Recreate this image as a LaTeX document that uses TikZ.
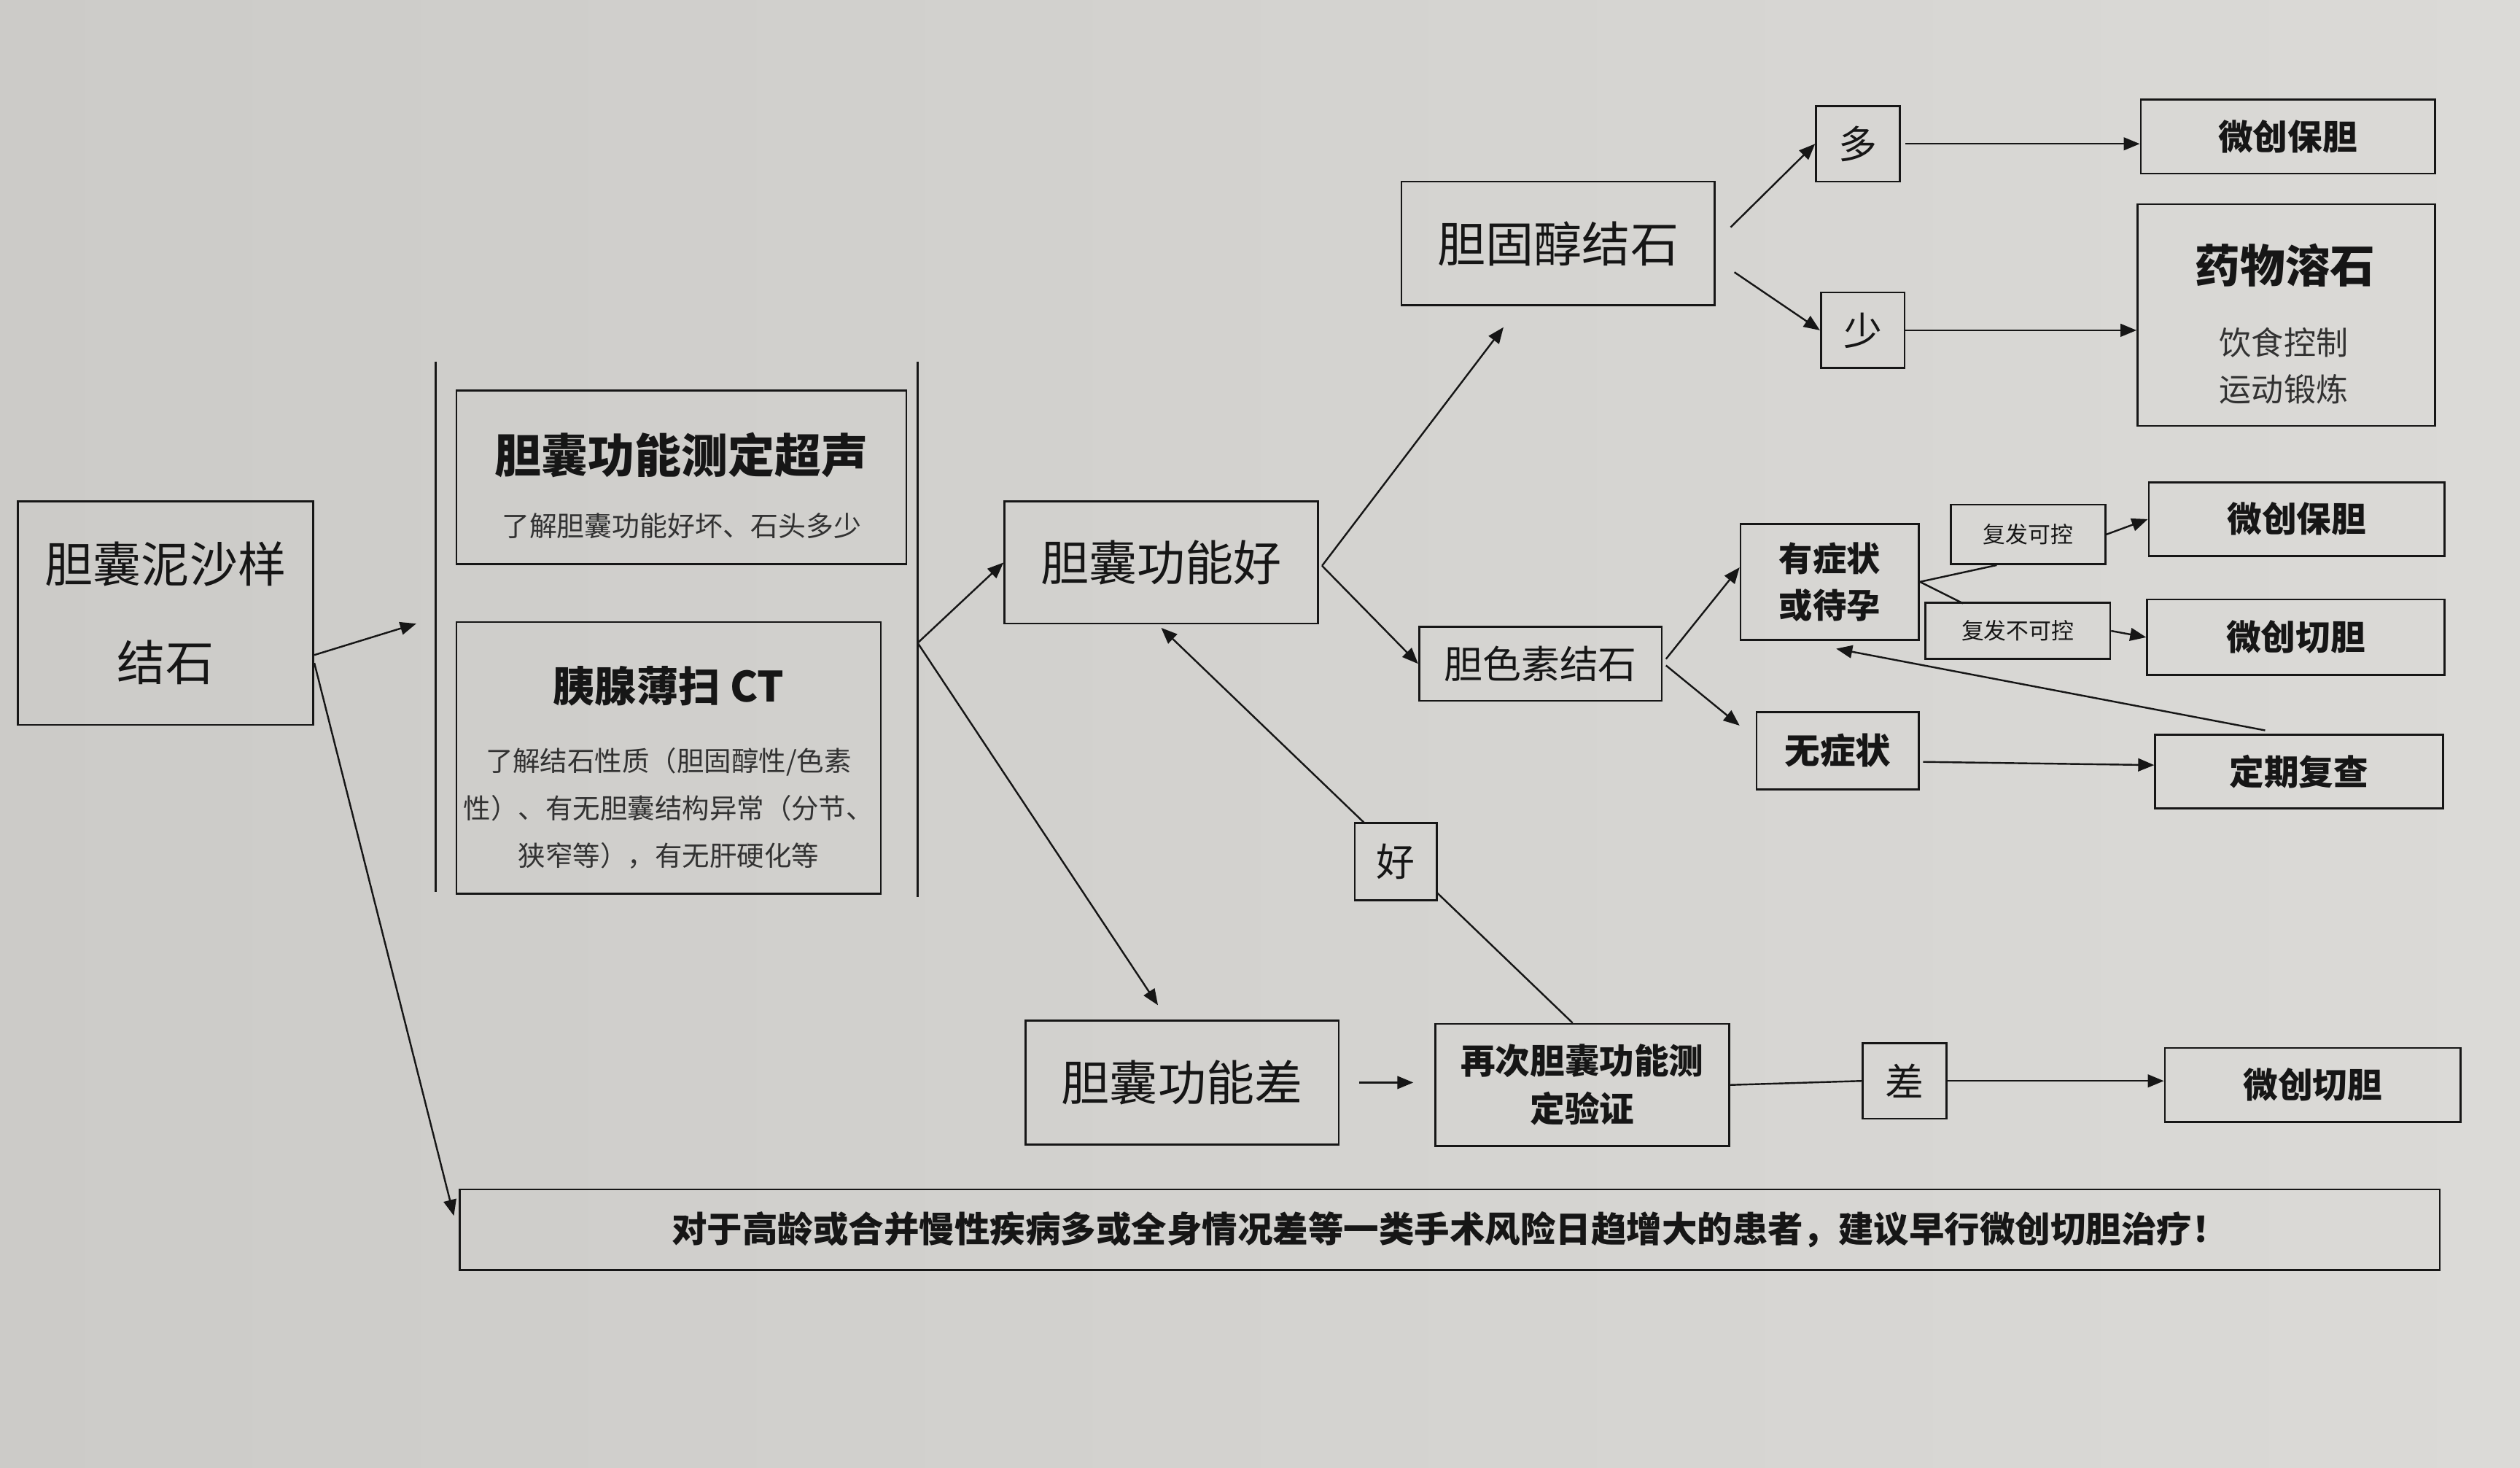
\documentclass[tikz,border=0pt]{standalone}
\usepackage{fontspec}
\setmainfont{Noto Sans CJK SC}
\usetikzlibrary{arrows.meta,calc}
\definecolor{bg}{RGB}{213,212,209}
\definecolor{bgl}{RGB}{204,203,200}
\definecolor{bgr}{RGB}{219,218,215}
\definecolor{ink}{RGB}{22,22,22}
\definecolor{soft}{RGB}{50,50,50}
\tikzset{
  box/.style={draw=ink, line width=0.6pt, inner sep=0pt, align=center, text=ink},
  lbl/.style={inner sep=0pt, align=center, text=ink},
  arr/.style={draw=ink, line width=0.55pt, -{Triangle[length=5pt,width=4pt]}},
  ln/.style={draw=ink, line width=0.55pt},
}
\newcommand\fs[2]{\fontsize{#1}{#2}\selectfont}
\newcommand\bx[7]{\node[box, font={#6}, minimum width={(#4-#2)*0.5pt}, minimum height={(#5-#3)*0.5pt}] (#1) at ({(#2+#4)/2},{(#3+#5)/2}) {#7};}
\begin{document}
\begin{tikzpicture}[x=0.5pt,y=-0.5pt]
\shade[left color=bgl, right color=bgr] (0,0) rectangle (1568,913);
\useasboundingbox (0,0) rectangle (1568,913);

% boxes
\bx{A}{11}{312}{195}{451}{\fs{15pt}{30.5pt}}{胆囊泥沙样\\结石}
\bx{B}{284}{243}{564}{351}{}{}
\node[lbl, font=\fs{14.5pt}{18pt}\bfseries] (Bt) at (424,283) {胆囊功能测定超声};
\node[lbl, text=soft, font=\fs{8.6pt}{12pt}] (Bs) at (424,327) {了解胆囊功能好坏、石头多少};
\bx{C}{284}{387}{548}{556}{}{}
\node[lbl, font=\fs{13pt}{16pt}\bfseries] (Ct) at (416,427) {胰腺薄扫 CT};
\node[lbl, text=soft, font=\fs{8.5pt}{14.75pt}] (Cs) at (416,503) {了解结石性质（胆固醇性/色素\\性）、有无胆囊结构异常（分节、\\狭窄等），有无肝硬化等};

\bx{D}{625}{312}{820}{388}{\fs{15pt}{18pt}}{胆囊功能好}
\bx{E}{638}{635}{833}{712}{\fs{15pt}{18pt}}{胆囊功能差}
\bx{F}{893}{637}{1076}{713}{\fs{10.8pt}{15pt}\bfseries}{再次胆囊功能测\\定验证}
\bx{cha}{1159}{649}{1211}{696}{\fs{12pt}{14pt}}{差}
\bx{S}{1347}{652}{1531}{698}{\fs{10.8pt}{13pt}\bfseries}{微创切胆}
\bx{Z}{286}{740}{1518}{790}{\fs{11pt}{13pt}\bfseries}{对于高龄或合并慢性疾病多或全身情况差等一类手术风险日趋增大的患者，建议早行微创切胆治疗！}

\bx{G}{872}{113}{1067}{190}{\fs{15pt}{18pt}}{胆固醇结石}
\bx{H}{883}{390}{1034}{436}{\fs{12pt}{14pt}}{胆色素结石}
\bx{duo}{1130}{66}{1182}{113}{\fs{12pt}{14pt}}{多}
\bx{shao}{1133}{182}{1185}{229}{\fs{12pt}{14pt}}{少}
\bx{P1}{1332}{62}{1515}{108}{\fs{10.8pt}{13pt}\bfseries}{微创保胆}
\bx{M}{1330}{127}{1515}{265}{}{}
\node[lbl, font=\fs{14pt}{17pt}\bfseries] (Mt) at (1422,165) {药物溶石};
\node[lbl, text=soft, font=\fs{10pt}{14.5pt}] (Ms) at (1421,227.5) {饮食控制\\运动锻炼};

\bx{I}{1083}{326}{1194}{398}{\fs{10.5pt}{14.5pt}\bfseries}{有症状\\或待孕}
\bx{J}{1093}{443}{1194}{491}{\fs{11pt}{13pt}\bfseries}{无症状}
\bx{K1}{1214}{314}{1310}{351}{\fs{7pt}{9pt}}{复发可控}
\bx{K2}{1198}{375}{1313}{410}{\fs{7pt}{9pt}}{复发不可控}
\bx{Q1}{1337}{300}{1521}{346}{\fs{10.8pt}{13pt}\bfseries}{微创保胆}
\bx{Q2}{1336}{373}{1521}{420}{\fs{10.8pt}{13pt}\bfseries}{微创切胆}
\bx{R}{1341}{457}{1520}{503}{\fs{10.8pt}{13pt}\bfseries}{定期复查}

% brackets around the examinations
\draw[ln, line width=0.8pt] (271,225) -- (271,555);
\draw[ln, line width=0.8pt] (571,225) -- (571,558);
\coordinate (lbin) at (259,388);
\coordinate (rb) at (571,400);

% connectors
\draw[arr] ($(A.east)+(0,26)$) -- (lbin);
\draw[arr] ($(A.east)+(0,31)$) -- ($(Z.north west)+(-3,17)$);
\draw[arr] (rb) -- (D.west);
\draw[arr] (rb) -- ($(E.north)+(-15,-9)$);
\draw[arr, shorten <=6pt, shorten >=6.5pt] (E.east) -- (E.east -| F.west);

\draw[arr] ($(F.north)+(-6,0)$) -- ($(D.south)+(0,2)$);
\node[box, fill=bg, minimum width=25.5pt, minimum height=24pt, font=\fs{12pt}{14pt}] (hao) at (868.5,536) {好};

\draw[ln] (F.east) -- (cha.west);
\draw[arr] (cha.east) -- (cha.east -| S.west);

\draw[arr] ($(D.east)+(2,2)$) -- ($(G.south)+(-34,13)$);
\draw[arr] ($(D.east)+(2,2)$) -- (H.west);
\draw[arr, shorten <=6.5pt] ($(G.east)+(0,-1)$) -- (duo.west);
\draw[arr, shorten <=7pt] ($(G.east)+(0,10)$) -- (shao.west);
\draw[arr] ($(duo.east)+(3,0)$) -- (duo.east -| P1.west);
\draw[arr] (shao.east) -- (shao.east -| M.west);

\draw[arr] ($(H.east)+(2,-3)$) -- ($(I.west)+(0,-9)$);
\draw[arr] ($(H.east)+(2,1)$) -- ($(J.north west)+(-10,9)$);
\draw[ln] (I.east) -- ($(K1.south west)+(29,0)$);
\draw[ln] (I.east) -- ($(K2.north west)+(24,1)$);
\draw[arr] (K1.east) -- (Q1.west);
\draw[arr] (K2.east) -- (Q2.west);
\draw[arr] ($(J.east)+(2,7)$) -- ($(R.west)+(0,-4)$);
\draw[arr] ($(R.north west)+(69,-2)$) -- ($(I.south)+(4,5)$);
\end{tikzpicture}
\end{document}
